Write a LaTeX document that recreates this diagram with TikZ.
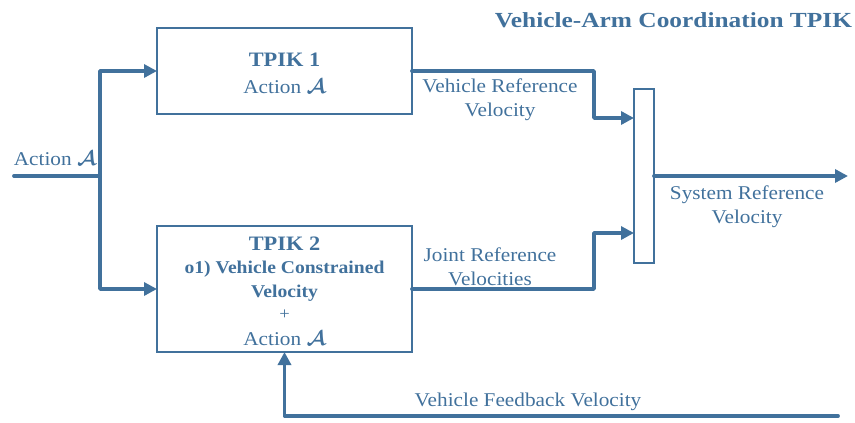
\documentclass[tikz,border=0pt]{standalone}
\usepackage{bm}
\usepackage{fontspec}
\setmainfont[FakeStretch=1.09]{Liberation Serif}
\newfontfamily\titlefont[FakeStretch=1.18]{Liberation Serif}
\usetikzlibrary{arrows.meta}
\definecolor{steel}{RGB}{65,113,156}
\newcommand{\calA}{$\bm{\mathcal{A}}$}
\begin{document}
\begin{tikzpicture}[x=1pt,y=-1pt,
  every node/.style={text=steel,inner sep=0pt,outer sep=0pt},
  lbl/.style={font=\fontsize{19.5}{24}\selectfont,align=center},
  hd/.style={font=\fontsize{20.5}{24}\selectfont\bfseries},
  bsub/.style={font=\fontsize{18}{24}\selectfont\bfseries},
  blk/.style={draw=steel,line width=1.4pt,rectangle,minimum width=255pt},
  conn/.style={draw=steel,line width=3.8pt,line join=round,line cap=round},
  tip/.style={-{Triangle[length=13pt,width=13pt]}}]
\useasboundingbox (0,0) rectangle (855,423);
\node[blk,minimum height=86pt] (b1) at (284.5,71) {};
\node[blk,minimum height=126pt] (b2) at (284.5,289) {};
\node[hd] (b1t) at (284.5,60) {TPIK 1};
\node[lbl] (b1a) at (284.5,86) {Action \calA};
\node[hd] (b2t) at (284.5,244) {TPIK 2};
\node[bsub] (b2o) at (284.5,269) {o1) Vehicle Constrained};
\node[bsub] (b2v) at (284.5,293) {Velocity};
\node[font=\fontsize{17}{20}\selectfont] (b2p) at (284.5,315) {+};
\node[lbl] (b2a) at (284.5,338) {Action \calA};
\node[draw=steel,line width=1.4pt,minimum width=20pt,minimum height=174pt] (bar) at (644,176) {};
\coordinate (in) at (14,176);
\coordinate (split) at (100,176);
\coordinate (bend1) at (594,118);
\coordinate (bend2) at (594,233);
\coordinate (out) at (848,176);
\coordinate (fb) at (838,416);
\draw[conn] (in) -- (split);
\draw[conn,tip] (split) |- (b1.west);
\draw[conn,tip] (split) |- (b2.west);
\draw[conn,tip] (b1.east) -| (bend1) -- (bend1 -| bar.west);
\draw[conn,tip] (b2.east) -| (bend2) -- (bend2 -| bar.west);
\draw[conn,tip] (bar.east) -- (out);
\draw[conn,tip] (fb) -| (b2.south);
\node[lbl] (la) at (55,158) {Action \calA};
\node[lbl] (lv) at (500,100) {Vehicle Reference\\Velocity};
\node[lbl] (lj) at (490,266.5) {Joint Reference\\Velocities};
\node[lbl] (ls) at (747,207) {System Reference\\Velocity};
\node[lbl] (lf) at (528,402) {Vehicle Feedback Velocity};
\node[anchor=east,font=\titlefont\fontsize{21.5}{24}\selectfont\bfseries] (title) at (852,20) {Vehicle-Arm Coordination TPIK};
\end{tikzpicture}
\end{document}
